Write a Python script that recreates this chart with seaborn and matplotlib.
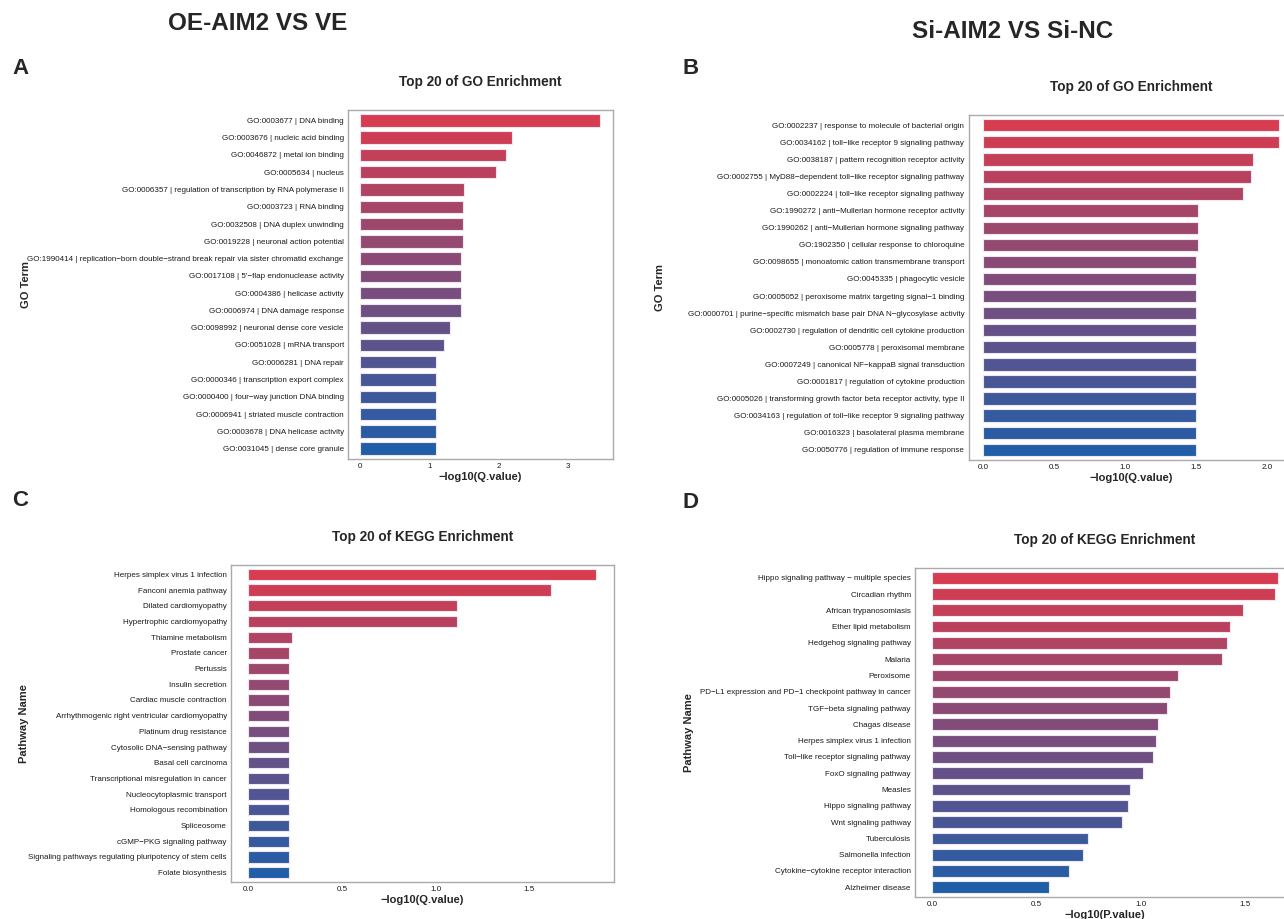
import numpy as np
import matplotlib
matplotlib.use('Agg')
import matplotlib.pyplot as plt
from matplotlib.ticker import MultipleLocator
import seaborn as sns

# Style settings
sns.set_style('white')
plain = ['Liberation Sans', 'DejaVu Sans']
plt.rcParams['font.family'] = plain

# Panel A: GO, OE-AIM2 vs VE
go_a_terms = [
    'GO:0003677 | DNA binding',
    'GO:0003676 | nucleic acid binding',
    'GO:0046872 | metal ion binding',
    'GO:0005634 | nucleus',
    'GO:0006357 | regulation of transcription by RNA polymerase II',
    'GO:0003723 | RNA binding',
    'GO:0032508 | DNA duplex unwinding',
    'GO:0019228 | neuronal action potential',
    'GO:1990414 | replication\u2212born double\u2212strand break repair via sister chromatid exchange',
    "GO:0017108 | 5'\u2212flap endonuclease activity",
    'GO:0004386 | helicase activity',
    'GO:0006974 | DNA damage response',
    'GO:0098992 | neuronal dense core vesicle',
    'GO:0051028 | mRNA transport',
    'GO:0006281 | DNA repair',
    'GO:0000346 | transcription export complex',
    'GO:0000400 | four\u2212way junction DNA binding',
    'GO:0006941 | striated muscle contraction',
    'GO:0003678 | DNA helicase activity',
    'GO:0031045 | dense core granule',
]
go_a_values = [3.47, 2.20, 2.11, 1.96, 1.50, 1.49, 1.49, 1.49, 1.45, 1.45,
               1.45, 1.45, 1.30, 1.21, 1.09, 1.09, 1.09, 1.09, 1.09, 1.09]

# Panel B: GO, Si-AIM2 vs Si-NC
go_b_terms = [
    'GO:0002237 | response to molecule of bacterial origin',
    'GO:0034162 | toll\u2212like receptor 9 signaling pathway',
    'GO:0038187 | pattern recognition receptor activity',
    'GO:0002755 | MyD88\u2212dependent toll\u2212like receptor signaling pathway',
    'GO:0002224 | toll\u2212like receptor signaling pathway',
    'GO:1990272 | anti\u2212Mullerian hormone receptor activity',
    'GO:1990262 | anti\u2212Mullerian hormone signaling pathway',
    'GO:1902350 | cellular response to chloroquine',
    'GO:0098655 | monoatomic cation transmembrane transport',
    'GO:0045335 | phagocytic vesicle',
    'GO:0005052 | peroxisome matrix targeting signal\u22121 binding',
    'GO:0000701 | purine\u2212specific mismatch base pair DNA N\u2212glycosylase activity',
    'GO:0002730 | regulation of dendritic cell cytokine production',
    'GO:0005778 | peroxisomal membrane',
    'GO:0007249 | canonical NF\u2212kappaB signal transduction',
    'GO:0001817 | regulation of cytokine production',
    'GO:0005026 | transforming growth factor beta receptor activity, type II',
    'GO:0034163 | regulation of toll\u2212like receptor 9 signaling pathway',
    'GO:0016323 | basolateral plasma membrane',
    'GO:0050776 | regulation of immune response',
]
go_b_values = [2.084, 2.084, 1.90, 1.887, 1.83, 1.516, 1.516, 1.516, 1.50, 1.50,
               1.50, 1.50, 1.50, 1.50, 1.50, 1.50, 1.50, 1.50, 1.50, 1.50]

# Panel C: KEGG, OE-AIM2 vs VE
kegg_c_terms = [
    'Herpes simplex virus 1 infection',
    'Fanconi anemia pathway',
    'Dilated cardiomyopathy',
    'Hypertrophic cardiomyopathy',
    'Thiamine metabolism',
    'Prostate cancer',
    'Pertussis',
    'Insulin secretion',
    'Cardiac muscle contraction',
    'Arrhythmogenic right ventricular cardiomyopathy',
    'Platinum drug resistance',
    'Cytosolic DNA\u2212sensing pathway',
    'Basal cell carcinoma',
    'Transcriptional misregulation in cancer',
    'Nucleocytoplasmic transport',
    'Homologous recombination',
    'Spliceosome',
    'cGMP\u2212PKG signaling pathway',
    'Signaling pathways regulating pluripotency of stem cells',
    'Folate biosynthesis',
]
kegg_c_values = [1.859, 1.619, 1.116, 1.116, 0.231, 0.218, 0.218, 0.218, 0.218, 0.218,
                 0.218, 0.218, 0.218, 0.218, 0.218, 0.218, 0.218, 0.218, 0.218, 0.218]

# Panel D: KEGG, Si-AIM2 vs Si-NC
kegg_d_terms = [
    'Hippo signaling pathway \u2212 multiple species',
    'Circadian rhythm',
    'African trypanosomiasis',
    'Ether lipid metabolism',
    'Hedgehog signaling pathway',
    'Malaria',
    'Peroxisome',
    'PD\u2212L1 expression and PD\u22121 checkpoint pathway in cancer',
    'TGF\u2212beta signaling pathway',
    'Chagas disease',
    'Herpes simplex virus 1 infection',
    'Toll\u2212like receptor signaling pathway',
    'FoxO signaling pathway',
    'Measles',
    'Hippo signaling pathway',
    'Wnt signaling pathway',
    'Tuberculosis',
    'Salmonella infection',
    'Cytokine\u2212cytokine receptor interaction',
    'Alzheimer disease',
]
kegg_d_values = [1.657, 1.644, 1.492, 1.429, 1.413, 1.390, 1.179, 1.140, 1.128, 1.083,
                 1.073, 1.059, 1.010, 0.947, 0.937, 0.911, 0.748, 0.724, 0.656, 0.561]

W, H = 1284, 919
fig = plt.figure(figsize=(W / 100, H / 100), dpi=100)

top_color = np.array([215, 60, 80]) / 255
bottom_color = np.array([33, 94, 168]) / 255


def px_axes(left, top, right, bottom):
    return fig.add_axes([left / W, 1 - bottom / H, (right - left) / W, (bottom - top) / H])


def draw_panel(box, terms, values, title, xlabel, ylabel, ylab_x, step):
    ax = px_axes(*box)
    n = len(terms)
    t = np.linspace(0, 1, n)[:, None]
    colors = [tuple(c) for c in (1 - t) * top_color + t * bottom_color]
    sns.barplot(x=values, y=terms, hue=terms, palette=colors, legend=False,
                orient='h', width=0.72, edgecolor='#eee6f0', linewidth=0.8,
                saturation=1, ax=ax)
    vmax = max(values)
    ax.set_xlim(-0.05 * vmax, 1.05 * vmax)
    ax.set_ylim(n - 0.4, -0.6)
    ax.xaxis.set_major_locator(MultipleLocator(step))
    for s in ax.spines.values():
        s.set_color('#aaaaaa')
        s.set_linewidth(1.0)
    ax.tick_params(axis='both', length=2, width=0.6, color='#555555',
                   labelsize=5.8, labelcolor='#1a1a1a', pad=1)
    ax.set_title(title, fontsize=9.8, fontweight='bold', pad=17)
    ax.set_xlabel(xlabel, fontsize=8, fontweight='bold', labelpad=1)
    ax.set_ylabel(ylabel, fontsize=8, fontweight='bold')
    ax.yaxis.set_label_coords(ylab_x / W, 0.5 * (2 - (box[1] + box[3]) / H),
                              transform=fig.transFigure)
    return ax


draw_panel((348, 110, 612.5, 459), go_a_terms, go_a_values,
           'Top 20 of GO Enrichment', '\u2212log10(Q.value)', 'GO Term', 31, 1)
draw_panel((968.5, 115, 1293.7, 460), go_b_terms, go_b_values,
           'Top 20 of GO Enrichment', '\u2212log10(Q.value)', 'GO Term', 665, 0.5)
draw_panel((231, 565, 613.6, 882), kegg_c_terms, kegg_c_values,
           'Top 20 of KEGG Enrichment', '\u2212log10(Q.value)', 'Pathway Name', 29, 0.5)
draw_panel((915, 568, 1295, 897), kegg_d_terms, kegg_d_values,
           'Top 20 of KEGG Enrichment', '\u2212log10(P.value)', 'Pathway Name', 694, 0.5)

# Group headers and panel letters
fig.text(258 / W, 1 - 24 / H, 'OE-AIM2 VS VE', fontsize=17.5, fontweight='bold',
         ha='center', va='center')
fig.text(1013 / W, 1 - 32 / H, 'Si-AIM2 VS Si-NC', fontsize=17.5, fontweight='bold',
         ha='center', va='center')
for letter, x, y in [('A', 12, 68), ('B', 683, 68), ('C', 12, 500), ('D', 683, 502)]:
    fig.text(x / W, 1 - y / H, letter, fontsize=16, fontweight='bold',
             ha='left', va='center')

fig.savefig('out.png', dpi=100)
